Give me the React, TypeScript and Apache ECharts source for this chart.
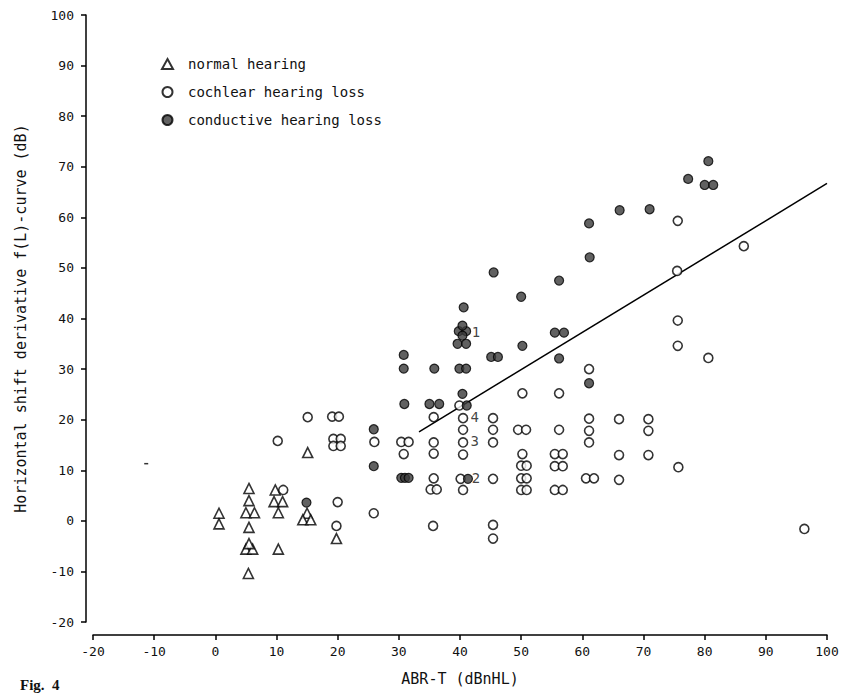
import React, { useEffect, useRef } from "react";
import * as echarts from "echarts";

// Tick values
const xTicks = { min: -20, max: 100, interval: 10 };
const yTicks = { min: -20, max: 100, interval: 10 };

// Normal hearing (triangles): [ABR-T, horizontal shift]
const normalHearing: number[][] = [
  [0.6, 1.5], [0.6, -0.6], [5.5, 6.4], [5.5, 4.0], [5.0, 1.6], [6.4, 1.6],
  [5.5, -1.3], [5.0, -5.6], [6.1, -5.6], [5.5, -4.5], [5.4, -10.4],
  [9.8, 6.1], [9.6, 3.8], [11.0, 3.8], [10.3, 1.6], [10.3, -5.6],
  [15.1, 13.5], [15.0, 1.5], [14.3, 0.2], [15.6, 0.2], [19.8, -3.5],
];

// Cochlear hearing loss (open circles)
const cochlearLoss: number[][] = [
  [11.1, 6.1], [15.1, 20.5], [19.1, 20.6], [20.2, 20.6], [10.2, 15.8],
  [19.3, 16.2], [20.5, 16.2], [19.3, 14.8], [20.5, 14.8], [20.0, 3.7],
  [19.8, -1.0], [25.9, 1.5], [26.0, 15.6], [30.4, 15.6], [31.6, 15.6],
  [30.8, 13.2], [39.9, 22.8], [35.7, 20.5], [40.5, 20.3], [45.4, 20.3],
  [40.5, 18.0], [45.4, 18.0], [49.5, 18.0], [50.8, 18.0], [35.7, 15.5],
  [40.5, 15.5], [45.4, 15.5], [35.7, 13.3], [40.5, 13.1], [50.2, 13.2],
  [50.0, 10.9], [50.9, 10.9], [35.7, 8.4], [40.1, 8.3], [45.4, 8.3],
  [50.0, 8.4], [50.9, 8.4], [35.2, 6.2], [36.2, 6.2], [40.5, 6.1],
  [50.0, 6.1], [50.9, 6.1], [61.1, 30.0], [50.2, 25.2], [56.2, 25.2],
  [61.1, 20.2], [66.0, 20.1], [70.8, 20.1], [56.2, 18.0], [61.1, 17.8],
  [70.8, 17.8], [61.1, 15.5], [55.5, 13.2], [56.8, 13.2], [66.0, 13.0],
  [70.8, 13.0], [55.5, 10.8], [56.8, 10.8], [60.6, 8.4], [61.9, 8.4],
  [66.0, 8.1], [55.5, 6.1], [56.8, 6.1], [75.6, 59.3], [86.4, 54.3],
  [75.5, 49.4], [75.6, 39.6], [75.6, 34.6], [80.6, 32.2], [75.7, 10.6],
  [96.3, -1.6], [35.6, -1.0], [45.4, -0.8], [45.4, -3.5],
];

// Conductive hearing loss (filled circles)
const conductiveLoss: number[][] = [
  [14.9, 3.6], [25.9, 18.1], [25.9, 10.8], [30.9, 23.1], [30.4, 8.5],
  [31.0, 8.5], [31.6, 8.5], [45.5, 49.1], [50.0, 44.3], [40.6, 42.2],
  [39.8, 37.5], [41.0, 37.5], [40.4, 38.6], [40.4, 36.6], [39.6, 35.0],
  [41.0, 35.0], [50.2, 34.6], [45.1, 32.4], [46.2, 32.4], [30.8, 32.8],
  [30.8, 30.1], [35.8, 30.1], [39.9, 30.1], [41.0, 30.1], [35.0, 23.1],
  [36.6, 23.1], [40.4, 25.1], [41.1, 22.8], [41.3, 8.3], [61.2, 52.1],
  [56.2, 47.5], [55.5, 37.2], [57.0, 37.2], [56.2, 32.1], [61.1, 27.2],
  [80.6, 71.1], [77.3, 67.6], [80.0, 66.4], [81.4, 66.4], [66.1, 61.4],
  [71.0, 61.6], [61.1, 58.8],
];

// Regression line end points
const regressionLine: number[][] = [
  [33.3, 17.6],
  [100, 66.7],
];

// Numbered annotations next to points
const annotations: (number | string)[][] = [
  [42.6, 37.4, "1"],
  [42.4, 20.6, "4"],
  [42.4, 15.8, "3"],
  [42.6, 8.5, "2"],
];

// Stray mark in the scan
const strayMark: number[][] = [[-11.3, 11.3]];

const seriesNames = ["normal hearing", "cochlear hearing loss", "conductive hearing loss"];
const xName = "ABR-T (dBnHL)";
const yName = "Horizontal shift derivative f(L)-curve (dB)";
const figLabel = "Fig.  4";

const MONO = "'DejaVu Sans Mono', monospace";

export default function App() {
  const ref = useRef<HTMLDivElement>(null);

  useEffect(() => {
    if (!ref.current) return;
    const chart = echarts.init(ref.current, undefined, { renderer: "svg" });
    const axisCommon = {
      type: "value" as const,
      splitLine: { show: false },
      axisLine: { show: true, onZero: false, lineStyle: { color: "#000", width: 1.5 } },
      axisTick: { show: true, length: 5, lineStyle: { color: "#000", width: 1.5 } },
      axisLabel: { color: "#111", fontFamily: MONO, fontSize: 13 },
      nameLocation: "middle" as const,
      nameTextStyle: { color: "#111", fontFamily: MONO, fontSize: 15 },
    };
    chart.setOption({
      animation: false,
      backgroundColor: "#fff",
      grid: { left: 93, right: 22, top: 15, bottom: 71, containLabel: false },
      legend: {
        data: seriesNames,
        orient: "vertical",
        left: 161,
        top: 57,
        padding: 0,
        itemGap: 14,
        itemWidth: 11,
        itemHeight: 10,
        textStyle: {
          fontFamily: MONO,
          fontSize: 14,
          color: "#111",
          lineHeight: 14,
          padding: [0, 0, 0, 10],
        },
      },
      xAxis: {
        ...axisCommon,
        min: xTicks.min,
        max: xTicks.max,
        interval: xTicks.interval,
        offset: 13,
        name: xName,
        nameGap: 36,
        axisLabel: { ...axisCommon.axisLabel, margin: 10 },
      },
      yAxis: {
        ...axisCommon,
        min: yTicks.min,
        max: yTicks.max,
        interval: yTicks.interval,
        offset: 7,
        name: yName,
        nameGap: 58,
        axisLabel: { ...axisCommon.axisLabel, margin: 12 },
      },
      series: [
        {
          name: seriesNames[0],
          type: "scatter",
          symbol: "triangle",
          symbolSize: 10,
          data: normalHearing,
          itemStyle: { color: "#fff", borderColor: "#000", borderWidth: 1.6 },
          z: 3,
        },
        {
          name: seriesNames[1],
          type: "scatter",
          symbol: "circle",
          symbolSize: 9,
          data: cochlearLoss,
          itemStyle: { color: "#fff", borderColor: "#000", borderWidth: 1.6 },
          z: 3,
        },
        {
          name: seriesNames[2],
          type: "scatter",
          symbol: "circle",
          symbolSize: 9,
          data: conductiveLoss,
          itemStyle: { color: "#3a3a3a", borderColor: "#000", borderWidth: 1.2 },
          z: 4,
        },
        {
          name: "regression",
          type: "line",
          data: regressionLine,
          symbol: "none",
          lineStyle: { color: "#000", width: 1.5 },
          z: 2,
          silent: true,
        },
        {
          name: "annotations",
          type: "scatter",
          data: annotations,
          symbolSize: 0,
          silent: true,
          label: {
            show: true,
            position: "inside",
            formatter: (p: any) => String(p.value[2]),
            fontFamily: MONO,
            fontSize: 14,
            color: "#111",
          },
          z: 5,
        },
        {
          name: "stray",
          type: "scatter",
          data: strayMark,
          symbol: "rect",
          symbolSize: [4, 1.5],
          itemStyle: { color: "#000" },
          silent: true,
        },
      ],
      graphic: [
        {
          type: "text",
          left: 20,
          top: 677,
          style: {
            text: figLabel,
            fontFamily: "'Liberation Serif', serif",
            fontWeight: "bold",
            fontSize: 15,
            fill: "#111",
          },
        },
      ],
    });
    return () => chart.dispose();
  }, []);

  return (
    <div
      ref={ref}
      style={{ position: "absolute", left: 0, top: 0, width: 849, height: 693, background: "#fff" }}
    />
  );
}
